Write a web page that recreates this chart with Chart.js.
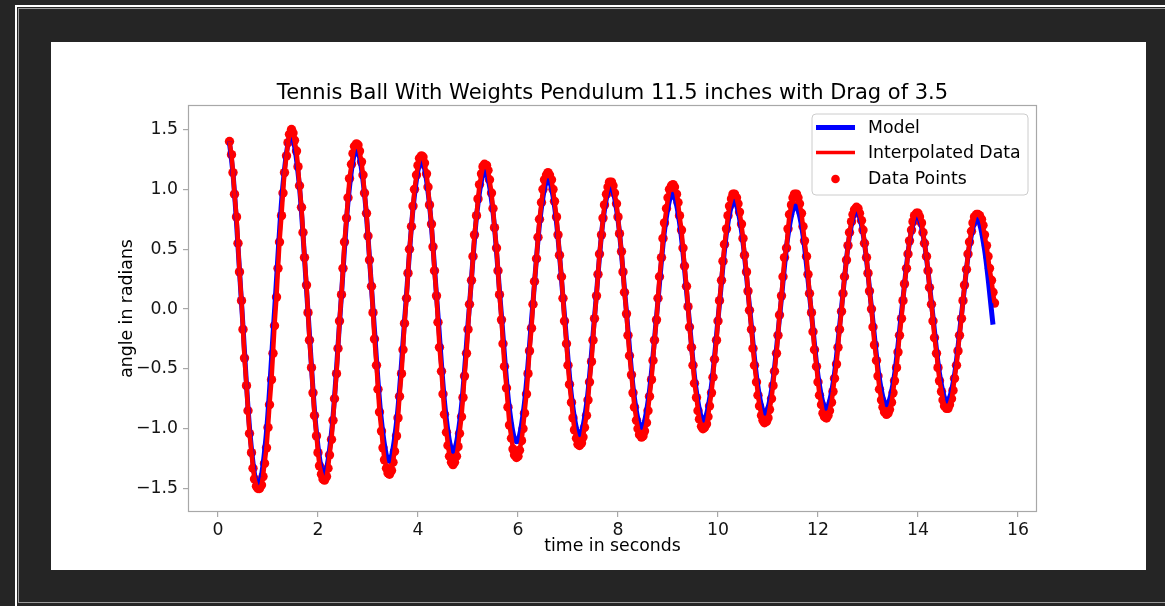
<!DOCTYPE html>
<html>
<head>
<meta charset="utf-8">
<script src="https://cdn.jsdelivr.net/npm/chart.js@4.4.1/dist/chart.umd.min.js"></script>
<style>
html,body{margin:0;padding:0;background:#252525;width:1165px;height:606px;overflow:hidden;}
#frameA{position:absolute;left:15px;top:5px;width:1200px;height:700px;border-left:2px solid #ffffff;border-top:2px solid #ffffff;}
#frameB{position:absolute;left:18px;top:8px;width:1200px;height:593px;border:1px solid #9a9a9a;border-right:none;}
#panel{position:absolute;left:51px;top:42px;width:1095px;height:528px;background:#ffffff;}
canvas{display:block;}
</style>
</head>
<body>
<div id="frameA"></div>
<div id="frameB"></div>
<div id="panel"><canvas id="c" width="1095" height="528"></canvas></div>
<script>
// ---------- chart text ----------
const chartTitle = "Tennis Ball With Weights Pendulum 11.5 inches with Drag of 3.5";
const xAxisLabel = "time in seconds";
const yAxisLabel = "angle in radians";
const seriesNames = ["Model", "Interpolated Data", "Data Points"];

// ---------- tick values / labels ----------
const xTicks = [0, 2, 4, 6, 8, 10, 12, 14, 16];
const xTickLabels = ["0", "2", "4", "6", "8", "10", "12", "14", "16"];
const yTicks = [-1.5, -1.0, -0.5, 0.0, 0.5, 1.0, 1.5];
const yTickLabels = ["\u22121.5", "\u22121.0", "\u22120.5", "0.0", "0.5", "1.0", "1.5"];

// ---------- model curve (blue) ----------
const modelTime = [0.227, 0.31, 0.475, 0.64, 0.80,
 0.965, 1.13, 1.295, 1.46,
 1.625, 1.79, 1.955, 2.12,
 2.283, 2.445, 2.608, 2.77,
 2.933, 3.095, 3.258, 3.42,
 3.583, 3.745, 3.908, 4.07,
 4.228, 4.385, 4.543, 4.70,
 4.86, 5.02, 5.18, 5.34,
 5.498, 5.655, 5.813, 5.97,
 6.128, 6.285, 6.443, 6.60,
 6.758, 6.915, 7.073, 7.23,
 7.385, 7.54, 7.695, 7.85,
 8.005, 8.16, 8.315, 8.47,
 8.625, 8.78, 8.935, 9.09,
 9.245, 9.40, 9.555, 9.71,
 9.863, 10.015, 10.168, 10.32,
 10.475, 10.63, 10.785, 10.94,
 11.093, 11.245, 11.398, 11.55,
 11.703, 11.855, 12.008, 12.16,
 12.313, 12.465, 12.618, 12.77,
 12.92, 13.07, 13.22, 13.37,
 13.523, 13.675, 13.828, 13.98,
 14.13, 14.28, 14.43, 14.58,
 14.73, 14.88, 15.03, 15.18,
 15.33, 15.50];
const modelAngle = [1.40, 1.08, 0.02, -1.04, -1.48,
 -1.05, -0.02, 1.02, 1.45,
 1.04, 0.04, -0.97, -1.38,
 -0.98, -0.03, 0.93, 1.33,
 0.95, 0.03, -0.89, -1.27,
 -0.90, -0.02, 0.87, 1.24,
 0.88, 0.03, -0.83, -1.19,
 -0.85, -0.02, 0.81, 1.15,
 0.82, 0.02, -0.78, -1.11,
 -0.79, -0.02, 0.76, 1.08,
 0.77, 0.02, -0.74, -1.05,
 -0.75, -0.02, 0.72, 1.02,
 0.73, 0.02, -0.70, -0.99,
 -0.70, -0.02, 0.67, 0.96,
 0.68, 0.02, -0.65, -0.93,
 -0.66, -0.02, 0.63, 0.90,
 0.64, 0.02, -0.61, -0.87,
 -0.62, -0.01, 0.61, 0.86,
 0.61, 0.02, -0.58, -0.83,
 -0.59, -0.01, 0.58, 0.82,
 0.58, 0.01, -0.56, -0.80,
 -0.57, -0.01, 0.55, 0.78,
 0.55, 0.01, -0.54, -0.77,
 -0.55, -0.01, 0.53, 0.75,
 0.50, -0.13];

// ---------- measured data (red), video frames ----------
const dataTime = [
 0.23,0.27,0.3,0.33,0.37,0.4,0.43,0.47,0.5,0.53,0.57,0.6,0.63,0.67,0.7,0.73,0.77,0.8,0.83,0.87,0.9,0.93,0.97,1,
 1.03,1.07,1.1,1.13,1.17,1.2,1.23,1.27,1.3,1.33,1.37,1.4,1.43,1.47,1.5,1.53,1.57,1.6,1.63,1.67,1.7,1.73,1.77,1.8,1.83,1.87,1.9,1.93,1.97,2,
 2.03,2.07,2.1,2.13,2.17,2.2,2.23,2.27,2.3,2.33,2.37,2.4,2.43,2.47,2.5,2.53,2.57,2.6,2.63,2.67,2.7,2.73,2.77,2.8,2.83,2.87,2.9,2.93,2.97,3,
 3.03,3.07,3.1,3.13,3.17,3.2,3.23,3.27,3.3,3.33,3.37,3.4,3.43,3.47,3.5,3.53,3.57,3.6,3.63,3.67,3.7,3.73,3.77,3.8,3.83,3.87,3.9,3.93,3.97,4,
 4.03,4.07,4.1,4.13,4.17,4.2,4.23,4.27,4.3,4.33,4.37,4.4,4.43,4.47,4.5,4.53,4.57,4.6,4.63,4.67,4.7,4.73,4.77,4.8,4.83,4.87,4.9,4.93,4.97,5,
 5.03,5.07,5.1,5.13,5.17,5.2,5.23,5.27,5.3,5.33,5.37,5.4,5.43,5.47,5.5,5.53,5.57,5.6,5.63,5.67,5.7,5.73,5.77,5.8,5.83,5.87,5.9,5.93,5.97,6,
 6.03,6.07,6.1,6.13,6.17,6.2,6.23,6.27,6.3,6.33,6.37,6.4,6.43,6.47,6.5,6.53,6.57,6.6,6.63,6.67,6.7,6.73,6.77,6.8,6.83,6.87,6.9,6.93,6.97,7,
 7.03,7.07,7.1,7.13,7.17,7.2,7.23,7.27,7.3,7.33,7.37,7.4,7.43,7.47,7.5,7.53,7.57,7.6,7.63,7.67,7.7,7.73,7.77,7.8,7.83,7.87,7.9,7.93,7.97,8,
 8.03,8.07,8.1,8.13,8.17,8.2,8.23,8.27,8.3,8.33,8.37,8.4,8.43,8.47,8.5,8.53,8.57,8.6,8.63,8.67,8.7,8.73,8.77,8.8,8.83,8.87,8.9,8.93,8.97,9,
 9.03,9.07,9.1,9.13,9.17,9.2,9.23,9.27,9.3,9.33,9.37,9.4,9.43,9.47,9.5,9.53,9.57,9.6,9.63,9.67,9.7,9.73,9.77,9.8,9.83,9.87,9.9,9.93,9.97,10,
 10.03,10.07,10.1,10.13,10.17,10.2,10.23,10.27,10.3,10.33,10.37,10.4,10.43,10.47,10.5,10.53,10.57,10.6,10.63,10.67,10.7,10.73,10.77,10.8,10.83,10.87,10.9,10.93,10.97,11,
 11.03,11.07,11.1,11.13,11.17,11.2,11.23,11.27,11.3,11.33,11.37,11.4,11.43,11.47,11.5,11.53,11.57,11.6,11.63,11.67,11.7,11.73,11.77,11.8,11.83,11.87,11.9,11.93,11.97,12,
 12.03,12.07,12.1,12.13,12.17,12.2,12.23,12.27,12.3,12.33,12.37,12.4,12.43,12.47,12.5,12.53,12.57,12.6,12.63,12.67,12.7,12.73,12.77,12.8,12.83,12.87,12.9,12.93,12.97,13,
 13.03,13.07,13.1,13.13,13.17,13.2,13.23,13.27,13.3,13.33,13.37,13.4,13.43,13.47,13.5,13.53,13.57,13.6,13.63,13.67,13.7,13.73,13.77,13.8,13.83,13.87,13.9,13.93,13.97,14,
 14.03,14.07,14.1,14.13,14.17,14.2,14.23,14.27,14.3,14.33,14.37,14.4,14.43,14.47,14.5,14.53,14.57,14.6,14.63,14.67,14.7,14.73,14.77,14.8,14.83,14.87,14.9,14.93,14.97,15,
 15.03,15.07,15.1,15.13,15.17,15.2,15.23,15.27,15.3,15.33,15.37,15.4,15.43,15.47,15.5,15.53];
const dataAngle = [
 1.40,1.29,1.14,0.96,0.77,0.55,0.31,0.07,-0.17,-0.41,-0.64,-0.85,-1.04,-1.20,-1.33,-1.42,-1.48,
 -1.50,-1.50,-1.47,-1.40,-1.29,-1.16,-0.99,-0.80,-0.59,-0.37,-0.14,0.10,0.34,0.56,0.78,0.97,1.14,1.28,1.39,1.46,
 1.50,1.47,1.41,1.32,1.19,1.03,0.85,0.64,0.43,0.20,-0.03,-0.26,-0.49,-0.70,-0.89,-1.06,-1.20,-1.31,-1.38,-1.42,
 -1.43,-1.40,-1.33,-1.22,-1.09,-0.93,-0.75,-0.54,-0.33,-0.10,0.12,0.34,0.56,0.76,0.93,1.09,1.21,1.30,1.36,1.38,
 1.37,1.32,1.23,1.12,0.97,0.80,0.61,0.41,0.19,-0.03,-0.25,-0.47,-0.67,-0.86,-1.02,-1.16,-1.26,-1.33,-1.37,
 -1.38,-1.35,-1.28,-1.19,-1.06,-0.91,-0.73,-0.54,-0.34,-0.12,0.09,0.30,0.50,0.69,0.86,1.00,1.12,1.20,1.26,1.28,
 1.27,1.22,1.13,1.02,0.87,0.71,0.52,0.32,0.11,-0.11,-0.32,-0.52,-0.71,-0.88,-1.03,-1.14,-1.23,-1.28,
 -1.30,-1.28,-1.23,-1.15,-1.04,-0.90,-0.74,-0.56,-0.37,-0.17,0.04,0.24,0.44,0.62,0.78,0.92,1.04,1.13,1.19,1.21,
 1.20,1.16,1.08,0.97,0.84,0.68,0.51,0.32,0.12,-0.09,-0.29,-0.48,-0.66,-0.82,-0.97,-1.08,-1.17,-1.22,-1.24,
 -1.23,-1.18,-1.10,-1.00,-0.87,-0.71,-0.54,-0.35,-0.16,0.04,0.23,0.42,0.60,0.75,0.89,1.00,1.08,1.12,
 1.14,1.12,1.08,1.00,0.90,0.77,0.62,0.45,0.27,0.09,-0.10,-0.29,-0.47,-0.63,-0.78,-0.91,-1.01,-1.08,-1.13,
 -1.14,-1.12,-1.07,-0.99,-0.89,-0.76,-0.61,-0.44,-0.26,-0.08,0.11,0.29,0.46,0.62,0.76,0.87,0.96,1.02,1.06,
 1.06,1.03,0.97,0.88,0.77,0.63,0.48,0.31,0.14,-0.04,-0.22,-0.39,-0.55,-0.70,-0.82,-0.93,-1.00,-1.05,-1.07,
 -1.06,-1.02,-0.95,-0.85,-0.73,-0.59,-0.43,-0.26,-0.09,0.09,0.27,0.43,0.59,0.72,0.84,0.93,1.00,1.03,
 1.04,1.02,0.96,0.89,0.78,0.66,0.51,0.36,0.19,0.02,-0.15,-0.32,-0.47,-0.62,-0.74,-0.85,-0.92,-0.98,-1.00,
 -0.99,-0.96,-0.90,-0.81,-0.70,-0.57,-0.42,-0.26,-0.10,0.07,0.24,0.40,0.54,0.67,0.78,0.86,0.92,0.96,
 0.96,0.93,0.88,0.81,0.71,0.59,0.45,0.31,0.15,-0.01,-0.17,-0.33,-0.47,-0.61,-0.72,-0.81,-0.89,-0.93,-0.95,
 -0.94,-0.91,-0.84,-0.75,-0.64,-0.52,-0.37,-0.22,-0.05,0.11,0.27,0.43,0.51,0.67,0.79,0.87,0.93,0.96,
 0.96,0.93,0.88,0.80,0.69,0.57,0.44,0.29,0.13,-0.03,-0.19,-0.34,-0.48,-0.61,-0.72,-0.80,-0.87,-0.90,
 -0.91,-0.89,-0.85,-0.78,-0.69,-0.58,-0.46,-0.32,-0.17,-0.02,0.13,0.27,0.41,0.53,0.64,0.73,0.79,0.83,0.85,
 0.84,0.80,0.74,0.66,0.55,0.43,0.30,0.15,0.00,-0.15,-0.30,-0.43,-0.56,-0.67,-0.76,-0.82,-0.86,-0.88,
 -0.87,-0.84,-0.78,-0.70,-0.60,-0.49,-0.36,-0.22,-0.08,0.07,0.21,0.34,0.46,0.57,0.66,0.73,0.78,0.80,
 0.80,0.77,0.72,0.64,0.55,0.44,0.32,0.18,0.04,-0.10,-0.24,-0.37,-0.49,-0.60,-0.69,-0.76,-0.81,-0.83,
 -0.83,-0.80,-0.75,-0.68,-0.58,-0.47,-0.35,-0.22,-0.08,0.07,0.20,0.33,0.46,0.56,0.65,0.72,0.77,0.79,
 0.79,0.78,0.75,0.70,0.62,0.53,0.44,0.34,0.24,0.14,0.05];

// ---------- build library data ----------
function pairs(xs, ys) {
  const n = Math.min(xs.length, ys.length);
  const out = [];
  for (let i = 0; i < n; i++) out.push({x: xs[i], y: ys[i]});
  return out;
}
const modelXY = pairs(modelTime, modelAngle);
const dataXY = pairs(dataTime, dataAngle);

const FONT = '"DejaVu Sans", "Liberation Sans", sans-serif';
const AX = '#a8a8a8';
const TXT = '#141414';
const FS = 17.3;

const BLUE = '#0000ff';
const RED = '#ff0000';
const W_MODEL = 5, W_INTERP = 4.5, W_INTERP_LEG = 3.5, R_POINT = 4.7;

const framePlugin = {
  id: 'frame',
  afterDatasetsDraw(chart) {
    const {ctx, chartArea: a} = chart;
    ctx.save();
    ctx.strokeStyle = AX;
    ctx.lineWidth = 1.2;
    ctx.strokeRect(a.left + 0.5, a.top + 0.5, a.right - a.left - 1, a.bottom - a.top - 1);
    ctx.restore();
  }
};

const legendPlugin = {
  id: 'mplLegend',
  afterDraw(chart) {
    const ctx = chart.ctx;
    const bx = 761, by = 72, bw = 216, bh = 81, r = 4;
    ctx.save();
    ctx.beginPath();
    ctx.moveTo(bx + r, by);
    ctx.lineTo(bx + bw - r, by);
    ctx.quadraticCurveTo(bx + bw, by, bx + bw, by + r);
    ctx.lineTo(bx + bw, by + bh - r);
    ctx.quadraticCurveTo(bx + bw, by + bh, bx + bw - r, by + bh);
    ctx.lineTo(bx + r, by + bh);
    ctx.quadraticCurveTo(bx, by + bh, bx, by + bh - r);
    ctx.lineTo(bx, by + r);
    ctx.quadraticCurveTo(bx, by, bx + r, by);
    ctx.closePath();
    ctx.fillStyle = 'rgba(255,255,255,0.8)';
    ctx.fill();
    ctx.strokeStyle = '#cccccc';
    ctx.lineWidth = 1;
    ctx.stroke();

    const rows = [85.5, 110.5, 137];
    const hx0 = 765, hx1 = 804, tx = 817;
    ctx.lineCap = 'butt';
    ctx.strokeStyle = BLUE; ctx.lineWidth = W_MODEL;
    ctx.beginPath(); ctx.moveTo(hx0, rows[0]); ctx.lineTo(hx1, rows[0]); ctx.stroke();
    ctx.strokeStyle = RED; ctx.lineWidth = W_INTERP_LEG;
    ctx.beginPath(); ctx.moveTo(hx0, rows[1]); ctx.lineTo(hx1, rows[1]); ctx.stroke();
    ctx.fillStyle = RED;
    ctx.beginPath(); ctx.arc((hx0 + hx1) / 2, rows[2], 4.3, 0, Math.PI * 2); ctx.fill();

    ctx.fillStyle = '#000';
    ctx.font = FS + 'px ' + FONT;
    ctx.textBaseline = 'middle';
    ctx.textAlign = 'left';
    for (let i = 0; i < 3; i++) ctx.fillText(seriesNames[i], tx, rows[i] + 1);
    ctx.restore();
  }
};

new Chart(document.getElementById('c'), {
  type: 'line',
  data: {
    datasets: [
      { label: seriesNames[1], data: dataXY, borderColor: RED, backgroundColor: RED,
        borderWidth: W_INTERP, pointRadius: 0, tension: 0, fill: false,
        borderJoinStyle: 'round', order: 0 },
      { label: seriesNames[0], data: modelXY, borderColor: BLUE, backgroundColor: BLUE,
        borderWidth: W_MODEL, pointRadius: 0, cubicInterpolationMode: 'monotone', fill: false,
        borderJoinStyle: 'round', order: 1 },
      { label: seriesNames[2], data: dataXY, showLine: false, pointRadius: R_POINT,
        pointBackgroundColor: RED, pointBorderWidth: 0, pointBorderColor: RED, order: 2 }
    ]
  },
  options: {
    responsive: false,
    animation: false,
    events: [],
    devicePixelRatio: 1,
    layout: { padding: { left: 0, right: 109, top: 0, bottom: 0 } },
    plugins: {
      legend: { display: false },
      tooltip: { enabled: false },
      title: {
        display: true, text: chartTitle, color: '#000', fullSize: false,
        font: { family: FONT, size: 21, weight: 'normal', lineHeight: '24px' },
        padding: { top: 39.5, bottom: -0.5 }
      }
    },
    scales: {
      x: {
        type: 'linear', min: -0.6, max: 16.38,
        afterFit: s => { s.height = 58; },
        afterBuildTicks: s => { s.ticks = xTicks.map(v => ({ value: v })); },
        ticks: { autoSkip: false, maxRotation: 0, padding: 3, color: TXT,
                 font: { family: FONT, size: FS },
                 callback: (v, i) => xTickLabels[i] },
        grid: { drawOnChartArea: false, drawTicks: true, tickLength: 5, color: AX, tickColor: AX, lineWidth: 1.2 },
        border: { display: false },
        title: { display: true, text: xAxisLabel, color: '#000',
                 font: { family: FONT, size: FS }, padding: { top: 0, bottom: 12.8 } }
      },
      y: {
        type: 'linear', min: -1.696, max: 1.705,
        afterFit: s => { s.width = 137; },
        afterBuildTicks: s => { s.ticks = yTicks.map(v => ({ value: v })); },
        ticks: { autoSkip: false, padding: 5, color: TXT,
                 font: { family: FONT, size: FS },
                 callback: (v, i) => yTickLabels[i] },
        grid: { drawOnChartArea: false, drawTicks: true, tickLength: 5, color: AX, tickColor: AX, lineWidth: 1.2 },
        border: { display: false },
        title: { display: true, text: yAxisLabel, color: '#000',
                 font: { family: FONT, size: FS }, padding: { top: 66.6, bottom: 0 } }
      }
    }
  },
  plugins: [framePlugin, legendPlugin]
});
</script>
</body>
</html>
